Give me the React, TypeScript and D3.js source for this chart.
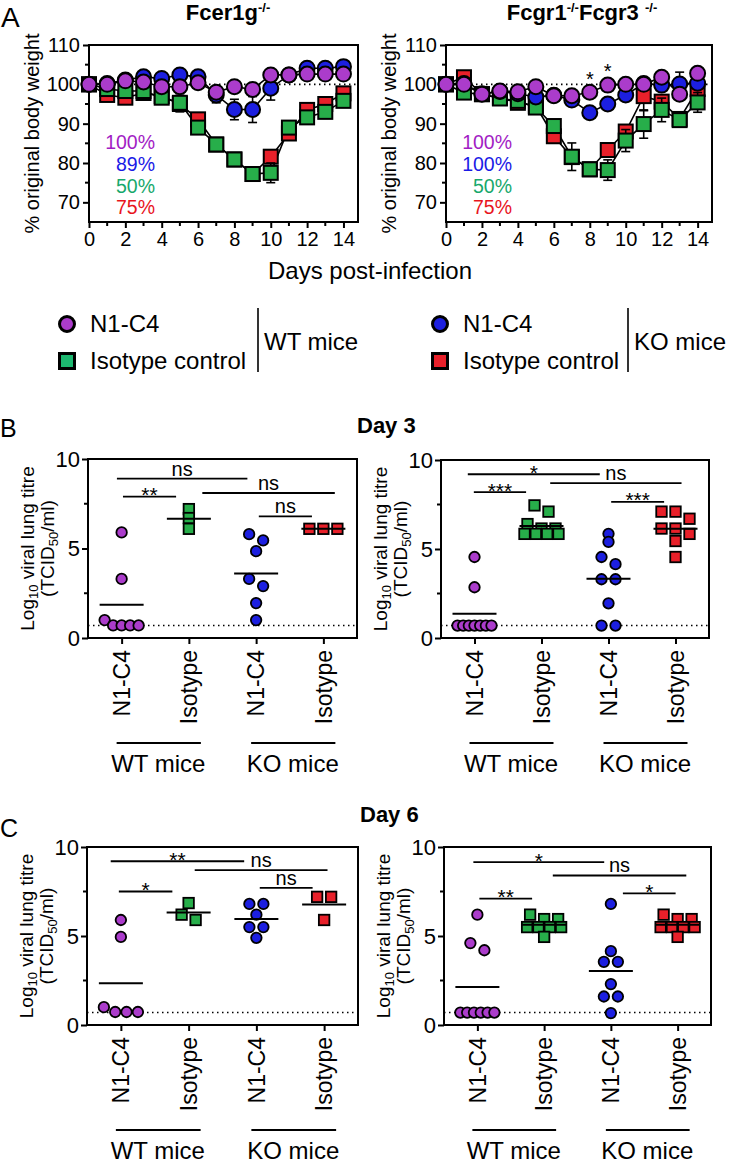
import React, { useEffect, useRef } from "react";
import * as d3 from "d3";

const FONT = "'Liberation Sans', Arial, Helvetica, sans-serif";

// ---------- A: % original body weight (mean ± SEM) ----------
const weightDays = [0, 1, 2, 3, 4, 5, 6, 7, 8, 9, 10, 11, 12, 13, 14];
const dayTicks = [0, 2, 4, 6, 8, 10, 12, 14];
const weightTicks = [70, 80, 90, 100, 110];

// Fcer1g-/-
const fcerWtN1C4 = [100, 100, 100.9, 100.6, 99.4, 99.4, 100.4, 98.0, 99.4, 98.7, 102.4, 102.4, 102.6, 102.6, 102.6];
const fcerWtN1C4Err = [0, 0.5, 0.6, 0.6, 0.6, 0.7, 0.8, 1.5, 0.6, 1.0, 0.7, 1.2, 0.8, 0.7, 0.8];
const fcerKoN1C4 = [100, 100.2, 101.1, 101.9, 101.5, 102.4, 101.9, 97.3, 93.6, 93.6, 99.0, 102.4, 104.1, 104.1, 104.5];
const fcerKoN1C4Err = [0, 0.5, 0.6, 0.8, 0.8, 1.3, 1.4, 2.0, 2.6, 3.3, 3.0, 1.5, 1.4, 1.4, 1.5];
const fcerWtIso = [100, 98.8, 98.3, 98.3, 96.6, 95.3, 89.0, 84.7, 80.9, 77.2, 77.5, 89.0, 91.6, 93.0, 95.8];
const fcerWtIsoErr = [0, 0.8, 0.8, 0.8, 0.9, 2.3, 0.9, 0.9, 0.8, 0.8, 2.5, 1.0, 1.0, 1.0, 1.0];
const fcerKoIso = [100, 97.3, 96.6, 97.8, 97.0, 95.0, 91.1, 84.7, 80.9, 77.2, 81.6, 87.5, 93.5, 95.0, 97.7];
const fcerKoIsoErr = [0, 0.6, 0.7, 0.7, 0.7, 1.0, 0.9, 0.8, 0.8, 0.8, 1.0, 1.7, 1.8, 1.8, 0.8];
const survivalFcer = ["100%", "89%", "50%", "75%"];

// Fcgr1-/-Fcgr3-/-
const fcgrWtN1C4 = [100, 100, 97.5, 98.3, 98.1, 99.4, 97.1, 97.1, 98.0, 99.8, 100, 100, 101.8, 97.5, 102.8];
const fcgrWtN1C4Err = [0, 0.5, 0.6, 0.6, 0.6, 0.6, 0.6, 0.6, 0.8, 0.8, 0.6, 0.6, 0.7, 1.0, 0.8];
const fcgrKoN1C4 = [100, 100.2, 97.6, 98.2, 97.6, 96.8, 97.2, 96.0, 92.8, 95.0, 97.3, 100.2, 99.8, 100.1, 100.3];
const fcgrKoN1C4Err = [0, 0.5, 0.6, 0.6, 0.8, 0.8, 0.8, 1.0, 0.9, 1.5, 1.0, 1.0, 1.0, 3.0, 1.2];
const fcgrWtIso = [100, 97.9, 97.5, 96.4, 95.8, 94.1, 89.4, 81.6, 78.4, 78.2, 85.7, 89.9, 93.5, 90.9, 95.4];
const fcgrWtIsoErr = [0, 0.8, 0.7, 0.8, 1.0, 1.0, 1.2, 3.5, 1.0, 2.6, 2.8, 3.6, 3.0, 1.0, 2.5];
const fcgrKoIso = [100, 101.8, 97.5, 96.6, 95.3, 94.5, 86.8, 81.5, 78.4, 83.3, 88.0, 97.0, 95.6, 91.2, 98.8];
const fcgrKoIsoErr = [0, 0.7, 0.7, 0.8, 0.8, 1.0, 1.0, 1.5, 1.0, 1.5, 1.5, 3.7, 1.5, 1.0, 1.5];
const survivalFcgr = ["100%", "100%", "50%", "75%"];
const starDaysFcgr = [8, 9];

// ---------- B / C: log10 viral lung titre ----------
const groupLabels = ["N1-C4", "Isotype", "N1-C4", "Isotype"];
const miceLabels = ["WT mice", "KO mice"];
const titreTicks = [0, 5, 10];
const titreMinor = [2.5, 7.5];
const detectionLimit = 0.7;

// Day 3
const d3FcerWtN1C4 = [5.9, 3.3, 1.0, 0.7, 0.7, 0.7, 0.7];
const d3FcerWtIso = [7.2, 6.7, 6.1];
const d3FcerKoN1C4 = [5.8, 5.45, 4.85, 3.3, 2.9, 1.95, 1.0];
const d3FcerKoIso = [6.1, 6.1, 6.1];
const d3FcgrWtN1C4 = [4.55, 2.85, 0.7, 0.7, 0.7, 0.7, 0.7, 0.7, 0.7];
const d3FcgrWtIso = [7.45, 7.1, 6.4, 6.15, 6.15, 5.85, 5.85, 5.85, 5.85];
const d3FcgrKoN1C4 = [5.85, 5.4, 4.55, 4.15, 3.3, 3.3, 1.95, 0.7, 0.7];
const d3FcgrKoIso = [7.1, 7.1, 6.7, 6.15, 6.15, 5.85, 5.45, 4.55];

// Day 6
const d6FcerWtN1C4 = [5.9, 4.95, 1.0, 0.73, 0.73, 0.73];
const d6FcerWtIso = [6.85, 6.2, 5.9];
const d6FcerKoN1C4 = [6.8, 6.8, 6.2, 5.5, 5.5, 4.9];
const d6FcerKoIso = [7.2, 7.2, 5.9];
const d6FcgrWtN1C4 = [6.2, 4.6, 4.2, 0.7, 0.7, 0.7, 0.7, 0.7, 0.7];
const d6FcgrWtIso = [6.2, 5.95, 5.95, 5.5, 5.5, 5.5, 5.5, 4.95];
const d6FcgrKoN1C4 = [6.8, 4.15, 3.55, 3.55, 2.3, 1.6, 1.6, 0.67];
const d6FcgrKoIso = [6.2, 5.95, 5.95, 5.5, 5.5, 5.5, 5.5, 4.95];

// significance bars: from/to in group-index units, level in log10 units
const d3FcerSig = [
  { from: -0.07, to: 1.87, level: 8.9, label: "ns" },
  { from: 0.02, to: 0.81, level: 7.9, label: "**" },
  { from: 1.2, to: 3.17, level: 8.1, label: "ns" },
  { from: 2.04, to: 2.83, level: 6.8, label: "ns" },
];
const d3FcgrSig = [
  { from: -0.1, to: 1.87, level: 9.2, label: "*" },
  { from: 1.13, to: 3.09, level: 8.7, label: "ns" },
  { from: -0.01, to: 0.77, level: 8.2, label: "***" },
  { from: 2.04, to: 2.83, level: 7.65, label: "***" },
];
const d6FcerSig = [
  { from: -0.15, to: 1.82, level: 9.2, label: "**" },
  { from: 1.09, to: 3.05, level: 8.7, label: "ns" },
  { from: -0.03, to: 0.76, level: 7.5, label: "*" },
  { from: 2.05, to: 2.83, level: 7.7, label: "ns" },
];
const d6FcgrSig = [
  { from: -0.06, to: 1.9, level: 9.15, label: "*" },
  { from: 1.13, to: 3.13, level: 8.4, label: "ns" },
  { from: 0.03, to: 0.82, level: 7.1, label: "**" },
  { from: 2.18, to: 2.97, level: 7.4, label: "*" },
];

const PURPLE = "#ab3ccb";
const BLUE = "#1c1fe0";
const GREEN = "#27ae4a";
const RED = "#e8202a";
const survivalColors = ["#a21cc4", "#1a1ae6", "#17a86b", "#e8141c"];
const groupColors = [PURPLE, GREEN, BLUE, RED];
const groupShapes = ["circle", "square", "circle", "square"];

type Sel = d3.Selection<any, any, any, any>;
type Box = { left: number; right: number; top: number; bottom: number };

function styleAxis(a: Sel, size = 20) {
  a.attr("font-family", FONT).attr("font-size", size);
  a.select(".domain").remove();
  a.selectAll(".tick line").attr("stroke", "#000").attr("stroke-width", 2);
  a.selectAll(".tick text").attr("fill", "#000");
}

function marker(g: Sel, cx: number, cy: number, shape: string, size: number, color: string, sw: number) {
  if (shape === "circle") {
    g.append("circle").attr("cx", cx).attr("cy", cy).attr("r", size / 2)
      .attr("fill", color).attr("stroke", "#000").attr("stroke-width", sw);
  } else {
    g.append("rect").attr("x", cx - size / 2).attr("y", cy - size / 2)
      .attr("width", size).attr("height", size)
      .attr("fill", color).attr("stroke", "#000").attr("stroke-width", sw);
  }
}

function frame(g: Sel, b: Box) {
  g.append("rect").attr("x", b.left).attr("y", b.top)
    .attr("width", b.right - b.left).attr("height", b.bottom - b.top)
    .attr("fill", "none").attr("stroke", "#000").attr("stroke-width", 2);
}

type Series = { values: number[]; err: number[]; color: string; shape: string };

function weightPanel(svg: Sel, b: Box, series: Series[], survival: string[], stars: number[]) {
  const g = svg.append("g");
  const x = d3.scaleLinear().domain([0, 14.8]).range([b.left, b.right]);
  const y = d3.scaleLinear().domain([65, 110]).range([b.bottom, b.top]);

  g.append("line").attr("x1", b.left).attr("x2", b.right)
    .attr("y1", y(100)).attr("y2", y(100))
    .attr("stroke", "#000").attr("stroke-width", 1.6).attr("stroke-dasharray", "1.5,3.5");

  const xa = g.append("g").attr("transform", `translate(0,${b.bottom})`)
    .call(d3.axisBottom(x).tickValues(dayTicks).tickSize(6).tickPadding(4).tickFormat(d3.format("d")));
  styleAxis(xa, 20);
  const ya = g.append("g").attr("transform", `translate(${b.left},0)`)
    .call(d3.axisLeft(y).tickValues(weightTicks).tickSize(6).tickPadding(3));
  styleAxis(ya, 20);

  g.selectAll(null).data(weightDays.filter((d) => d % 2 === 1)).join("line")
    .attr("x1", (d) => x(d)).attr("x2", (d) => x(d))
    .attr("y1", b.bottom).attr("y2", b.bottom + 4)
    .attr("stroke", "#000").attr("stroke-width", 2);
  g.selectAll(null).data(weightTicks.slice(1).map((t) => t - 5)).join("line")
    .attr("x1", b.left - 4).attr("x2", b.left)
    .attr("y1", (d) => y(d)).attr("y2", (d) => y(d))
    .attr("stroke", "#000").attr("stroke-width", 2);
  frame(g, b);

  g.append("text").attr("transform", `translate(${b.left - 50},${(b.top + b.bottom) / 2}) rotate(-90)`)
    .attr("text-anchor", "middle").attr("font-family", FONT).attr("font-size", 20)
    .text("% original body weight");

  survival.forEach((s, i) => {
    g.append("text").attr("x", b.left + 66).attr("y", b.top + 104 + i * 21.8)
      .attr("text-anchor", "end").attr("font-family", FONT).attr("font-size", 19.5)
      .attr("fill", survivalColors[i]).text(s);
  });

  const line = d3.line<number>().x((_, i) => x(weightDays[i])).y((v) => y(v));
  series.forEach((s) => {
    g.append("path").datum(s.values).attr("d", line)
      .attr("fill", "none").attr("stroke", "#000").attr("stroke-width", 1.6);
  });
  series.forEach((s) => {
    const eb = g.append("g").attr("stroke", "#000").attr("stroke-width", 1.6);
    s.values.forEach((v, i) => {
      const e = s.err[i];
      if (!e) return;
      const cx = x(weightDays[i]);
      eb.append("line").attr("x1", cx).attr("x2", cx).attr("y1", y(v - e)).attr("y2", y(v + e));
      [v - e, v + e].forEach((w) => {
        eb.append("line").attr("x1", cx - 4.5).attr("x2", cx + 4.5).attr("y1", y(w)).attr("y2", y(w));
      });
    });
    s.values.forEach((v, i) => {
      marker(g, x(weightDays[i]), y(v), s.shape, s.shape === "circle" ? 15 : 14, s.color, 2);
    });
  });

  stars.forEach((d) => {
    const i = weightDays.indexOf(d);
    const top = d3.max(series, (s) => s.values[i] + s.err[i]) as number;
    g.append("text").attr("x", x(d)).attr("y", y(top + 3.7) + 11)
      .attr("text-anchor", "middle").attr("font-family", FONT).attr("font-size", 20).text("*");
  });
}

// spread points sharing a row (similar value) side by side, GraphPad-style
function arrange(values: number[], y: d3.ScaleLinear<number, number>) {
  const sorted = [...values].sort((a, b) => b - a);
  const rows: number[][] = [];
  sorted.forEach((v) => {
    const row = rows[rows.length - 1];
    if (row && Math.abs(y(row[0]) - y(v)) < 8) row.push(v);
    else rows.push([v]);
  });
  const out: { v: number; dx: number }[] = [];
  rows.forEach((row) => {
    const n = row.length;
    const step = n > 1 ? Math.min(14, 34 / (n - 1)) : 0;
    row.forEach((v, k) => out.push({ v, dx: (k - (n - 1) / 2) * step }));
  });
  return out;
}

type Sig = { from: number; to: number; level: number; label: string };

function titrePanel(svg: Sel, b: Box, groups: number[][], sig: Sig[]) {
  const g = svg.append("g");
  const x = d3.scaleLinear().domain([-0.5, 3.5]).range([b.left, b.right]);
  const y = d3.scaleLinear().domain([0, 10]).range([b.bottom, b.top]);

  g.append("line").attr("x1", b.left).attr("x2", b.right)
    .attr("y1", y(detectionLimit)).attr("y2", y(detectionLimit))
    .attr("stroke", "#000").attr("stroke-width", 1.6).attr("stroke-dasharray", "1.5,3.5");

  const xa = g.append("g").attr("transform", `translate(0,${b.bottom})`)
    .call(d3.axisBottom(x).tickValues([0, 1, 2, 3]).tickSize(6).tickFormat(() => ""));
  styleAxis(xa, 20);
  const ya = g.append("g").attr("transform", `translate(${b.left},0)`)
    .call(d3.axisLeft(y).tickValues(titreTicks).tickSize(6).tickPadding(2));
  styleAxis(ya, 22);
  g.selectAll(null).data(titreMinor).join("line")
    .attr("x1", b.left - 4).attr("x2", b.left)
    .attr("y1", (d) => y(d)).attr("y2", (d) => y(d))
    .attr("stroke", "#000").attr("stroke-width", 2);
  frame(g, b);

  // y label, two lines
  const mid = (b.top + b.bottom) / 2;
  const l1 = g.append("text").attr("transform", `translate(${b.left - 54},${mid}) rotate(-90)`)
    .attr("text-anchor", "middle").attr("font-family", FONT).attr("font-size", 19);
  l1.append("tspan").text("Log");
  l1.append("tspan").attr("font-size", 13).attr("dy", 4).text("10");
  l1.append("tspan").attr("dy", -4).text(" viral lung titre");
  const l2 = g.append("text").attr("transform", `translate(${b.left - 34},${mid}) rotate(-90)`)
    .attr("text-anchor", "middle").attr("font-family", FONT).attr("font-size", 19);
  l2.append("tspan").text("(TCID");
  l2.append("tspan").attr("font-size", 13).attr("dy", 4).text("50");
  l2.append("tspan").attr("dy", -4).text("/ml)");

  // category labels
  groupLabels.forEach((lab, i) => {
    g.append("text").attr("transform", `translate(${x(i)},${b.bottom + 12}) rotate(-90)`)
      .attr("text-anchor", "end").attr("dy", "0.36em")
      .attr("font-family", FONT).attr("font-size", 23).text(lab);
  });
  miceLabels.forEach((lab, k) => {
    const a = x(k * 2), c = x(k * 2 + 1);
    g.append("line").attr("x1", a - 5).attr("x2", c + 12)
      .attr("y1", b.bottom + 105).attr("y2", b.bottom + 105)
      .attr("stroke", "#000").attr("stroke-width", 1.8);
    g.append("text").attr("x", (a + c) / 2 + 3).attr("y", b.bottom + 134)
      .attr("text-anchor", "middle").attr("font-family", FONT).attr("font-size", 24).text(lab);
  });

  // points + mean lines
  groups.forEach((vals, i) => {
    arrange(vals, y).forEach((p) => {
      marker(g, x(i) + p.dx, y(p.v), groupShapes[i], 10.5, groupColors[i], 1.8);
    });
  });
  groups.forEach((vals, i) => {
    const m = d3.mean(vals) as number;
    g.append("line").attr("x1", x(i) - 22).attr("x2", x(i) + 22)
      .attr("y1", y(m)).attr("y2", y(m)).attr("stroke", "#000").attr("stroke-width", 2);
  });

  // significance bars
  sig.forEach((s) => {
    const yy = y(s.level);
    g.append("line").attr("x1", x(s.from)).attr("x2", x(s.to)).attr("y1", yy).attr("y2", yy)
      .attr("stroke", "#000").attr("stroke-width", 1.8);
    const star = s.label.startsWith("*");
    g.append("text").attr("x", (x(s.from) + x(s.to)) / 2).attr("y", star ? yy + 5.5 : yy - 3)
      .attr("text-anchor", "middle").attr("font-family", FONT).attr("font-size", star ? 21 : 20)
      .text(s.label);
  });
}

function title(svg: Sel, cx: number, y: number, parts: [string, boolean][]) {
  const t = svg.append("text").attr("x", cx).attr("y", y).attr("text-anchor", "middle")
    .attr("font-family", FONT).attr("font-weight", "bold").attr("font-size", 22);
  let up = false;
  parts.forEach(([txt, sup]) => {
    const sp = t.append("tspan").text(txt).attr("font-size", sup ? 13 : 22);
    if (sup && !up) { sp.attr("dy", -8); up = true; }
    else if (!sup && up) { sp.attr("dy", 8); up = false; }
  });
}

const App = () => {
  const ref = useRef<SVGSVGElement>(null);

  useEffect(() => {
    const svg = d3.select(ref.current);
    svg.selectAll("*").remove();

    const text = (x: number, y: number, s: string, size: number, bold = false) =>
      svg.append("text").attr("x", x).attr("y", y).attr("font-family", FONT)
        .attr("font-size", size).attr("font-weight", bold ? "bold" : "normal").text(s);

    // ---- Panel A ----
    text(1, 27, "A", 28);
    title(svg, 228, 20, [["Fcer1g", false], ["-/-", true]]);
    title(svg, 582, 20, [["Fcgr1", false], ["-/-", true], ["Fcgr3 ", false], ["-/-", true]]);

    weightPanel(svg, { left: 89, right: 358, top: 45, bottom: 222 }, [
      { values: fcerKoIso, err: fcerKoIsoErr, color: RED, shape: "square" },
      { values: fcerWtIso, err: fcerWtIsoErr, color: GREEN, shape: "square" },
      { values: fcerKoN1C4, err: fcerKoN1C4Err, color: BLUE, shape: "circle" },
      { values: fcerWtN1C4, err: fcerWtN1C4Err, color: PURPLE, shape: "circle" },
    ], survivalFcer, []);
    weightPanel(svg, { left: 446, right: 712, top: 45, bottom: 222 }, [
      { values: fcgrKoIso, err: fcgrKoIsoErr, color: RED, shape: "square" },
      { values: fcgrWtIso, err: fcgrWtIsoErr, color: GREEN, shape: "square" },
      { values: fcgrKoN1C4, err: fcgrKoN1C4Err, color: BLUE, shape: "circle" },
      { values: fcgrWtN1C4, err: fcgrWtN1C4Err, color: PURPLE, shape: "circle" },
    ], survivalFcgr, starDaysFcgr);

    svg.append("text").attr("x", 370).attr("y", 279).attr("text-anchor", "middle")
      .attr("font-family", FONT).attr("font-size", 24).text("Days post-infection");

    // ---- legend ----
    const legend = [
      { x: 67, label: "N1-C4", color: PURPLE, shape: "circle", row: 0 },
      { x: 67, label: "Isotype control", color: "#1db870", shape: "square", row: 1 },
      { x: 440, label: "N1-C4", color: BLUE, shape: "circle", row: 0 },
      { x: 440, label: "Isotype control", color: RED, shape: "square", row: 1 },
    ];
    legend.forEach((l) => {
      const cy = 324 + l.row * 37;
      marker(svg, l.x, cy, l.shape, 15, l.color, 3);
      text(l.x + 23, cy + 8, l.label, 24);
    });
    [{ x: 258, label: "WT mice" }, { x: 628, label: "KO mice" }].forEach((m) => {
      svg.append("line").attr("x1", m.x).attr("x2", m.x).attr("y1", 308).attr("y2", 372)
        .attr("stroke", "#000").attr("stroke-width", 1.6);
      text(m.x + 6, 350, m.label, 24);
    });

    // ---- Panel B: Day 3 ----
    text(0, 437, "B", 25);
    text(357, 433, "Day 3", 22, true);
    titrePanel(svg, { left: 88, right: 357, top: 459, bottom: 638 },
      [d3FcerWtN1C4, d3FcerWtIso, d3FcerKoN1C4, d3FcerKoIso], d3FcerSig);
    titrePanel(svg, { left: 441, right: 709, top: 460, bottom: 638 },
      [d3FcgrWtN1C4, d3FcgrWtIso, d3FcgrKoN1C4, d3FcgrKoIso], d3FcgrSig);

    // ---- Panel C: Day 6 ----
    text(0, 837, "C", 25);
    text(360, 822, "Day 6", 22, true);
    titrePanel(svg, { left: 87, right: 358, top: 847, bottom: 1025 },
      [d6FcerWtN1C4, d6FcerWtIso, d6FcerKoN1C4, d6FcerKoIso], d6FcerSig);
    titrePanel(svg, { left: 444, right: 711, top: 847, bottom: 1025 },
      [d6FcgrWtN1C4, d6FcgrWtIso, d6FcgrKoN1C4, d6FcgrKoIso], d6FcgrSig);
  }, []);

  return (
    <svg
      ref={ref}
      width={733}
      height={1163}
      style={{ position: "absolute", left: 0, top: 0, background: "#fff" }}
    />
  );
};

export default App;
